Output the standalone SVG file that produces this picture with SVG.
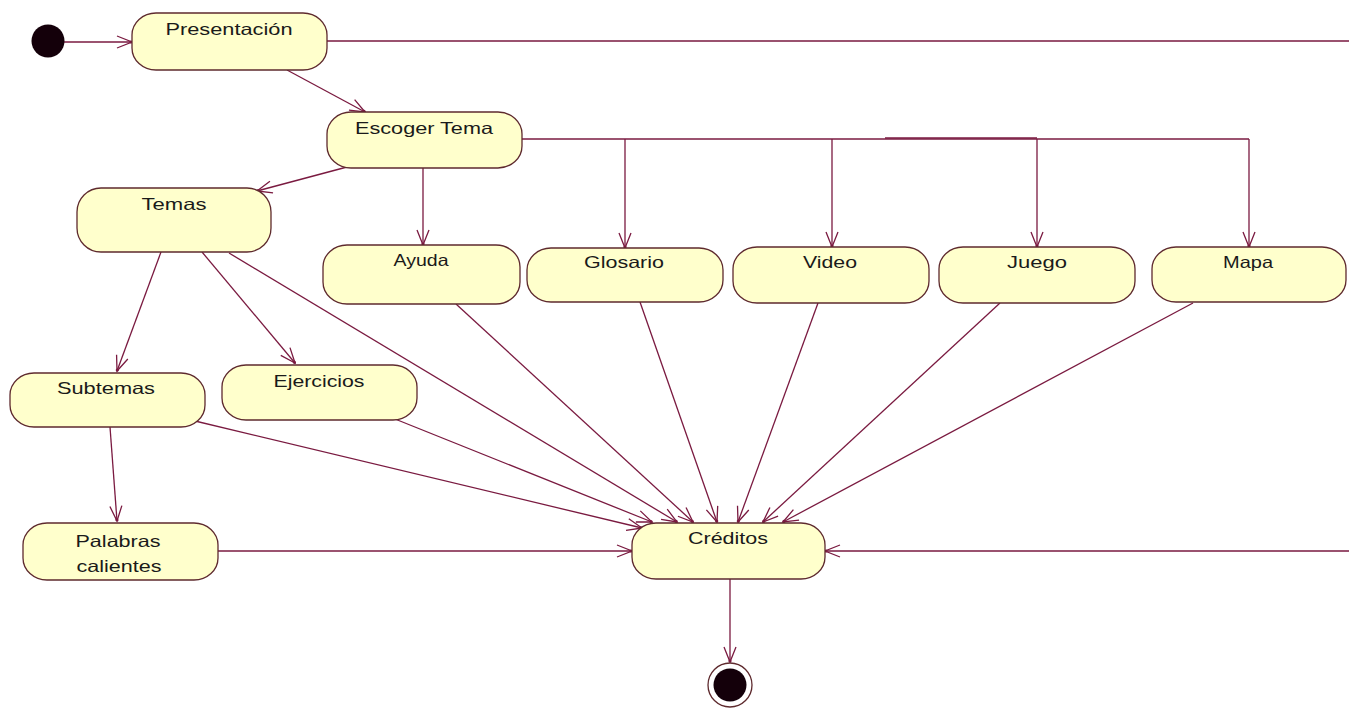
<svg xmlns="http://www.w3.org/2000/svg" width="1349" height="708" viewBox="0 0 1349 708">
  <style>
    .node rect { fill: #ffffcc; stroke: #5e2a2e; stroke-width: 1.3; }
    .node text { font-family: "Liberation Sans", Arial, sans-serif; font-size: 16.5px; fill: #1a1a1a; text-anchor: middle; }
    .conn { fill: none; stroke: #7a1a40; stroke-width: 1.3; }
    .arrow { marker-end: url(#open); }
  </style>
  <defs>
    <marker id="open" markerUnits="userSpaceOnUse" markerWidth="20" markerHeight="16" viewBox="-16 -8 18 16" refX="0" refY="0" orient="auto">
      <path d="M-15,-6 L0,0 L-15,6" fill="none" stroke="#7a1a40" stroke-width="1.3"/>
      <circle cx="-1" cy="0" r="1.6" fill="#7a1a40"/>
    </marker>
  </defs>

  <rect width="1349" height="708" fill="#ffffff"/>

  <!-- transitions -->
  <g id="connectors">
    <line class="conn arrow" x1="64" y1="42" x2="132" y2="42"/>
    <line class="conn arrow" x1="287" y1="70" x2="365" y2="112"/>
    <line class="conn arrow" x1="347" y1="167" x2="257" y2="191"/>
    <line class="conn arrow" x1="423" y1="168" x2="423" y2="245"/>
    <!-- fan-out from Escoger Tema -->
    <line class="conn" x1="522" y1="139" x2="1249" y2="139"/>
    <line class="conn" x1="885" y1="138" x2="1037" y2="138" stroke-width="2"/>
    <line class="conn arrow" x1="625" y1="139" x2="625" y2="248"/>
    <line class="conn arrow" x1="832" y1="139" x2="832" y2="247"/>
    <line class="conn arrow" x1="1037" y1="139" x2="1037" y2="247"/>
    <line class="conn arrow" x1="1249" y1="139" x2="1249" y2="247"/>
    <!-- from Temas -->
    <line class="conn arrow" x1="161" y1="252" x2="117" y2="371"/>
    <line class="conn arrow" x1="202" y1="252" x2="295" y2="363"/>
    <line class="conn arrow" x1="229" y1="253" x2="677" y2="522"/>
    <!-- from Subtemas / Ejercicios -->
    <line class="conn arrow" x1="110" y1="427" x2="117" y2="521"/>
    <line class="conn arrow" x1="195" y1="421" x2="642" y2="528"/>
    <line class="conn arrow" x1="395" y1="419" x2="652" y2="522"/>
    <!-- into Créditos from the top row -->
    <line class="conn arrow" x1="456" y1="304" x2="693" y2="522"/>
    <line class="conn arrow" x1="640" y1="302" x2="717" y2="522"/>
    <line class="conn arrow" x1="818" y1="303" x2="738" y2="522"/>
    <line class="conn arrow" x1="1000" y1="303" x2="763" y2="522"/>
    <line class="conn arrow" x1="1193" y1="303" x2="783" y2="522"/>
    <line class="conn arrow" x1="218" y1="551" x2="632" y2="551"/>
    <!-- skip path from Presentación around the right side -->
    <path class="conn arrow" d="M327,41 H1362 V551 H825"/>
    <line class="conn arrow" x1="730" y1="579" x2="730" y2="662"/>
  </g>

  <g id="start">
    <circle cx="48" cy="41" r="16.5" fill="#14000a"/>
  </g>

  <g id="presentacion" class="node">
    <rect x="132" y="13" width="195" height="57" rx="24" ry="22"/>
    <text x="229" y="35" textLength="127" lengthAdjust="spacingAndGlyphs">Presentación</text>
  </g>
  <g id="escoger-tema" class="node">
    <rect x="327" y="112" width="195" height="56" rx="24" ry="22"/>
    <text x="424" y="134" textLength="138" lengthAdjust="spacingAndGlyphs">Escoger Tema</text>
  </g>
  <g id="temas" class="node">
    <rect x="77" y="188" width="194" height="64" rx="24" ry="24"/>
    <text x="174" y="210" textLength="65" lengthAdjust="spacingAndGlyphs">Temas</text>
  </g>
  <g id="ayuda" class="node">
    <rect x="323" y="245" width="197" height="59" rx="24" ry="22"/>
    <text x="421" y="266" textLength="55" lengthAdjust="spacingAndGlyphs">Ayuda</text>
  </g>
  <g id="glosario" class="node">
    <rect x="527" y="248" width="196" height="54" rx="24" ry="22"/>
    <text x="624" y="268" textLength="80" lengthAdjust="spacingAndGlyphs">Glosario</text>
  </g>
  <g id="video" class="node">
    <rect x="733" y="247" width="196" height="56" rx="24" ry="22"/>
    <text x="830" y="268" textLength="54" lengthAdjust="spacingAndGlyphs">Video</text>
  </g>
  <g id="juego" class="node">
    <rect x="939" y="247" width="196" height="56" rx="24" ry="22"/>
    <text x="1037" y="268" textLength="60" lengthAdjust="spacingAndGlyphs">Juego</text>
  </g>
  <g id="mapa" class="node">
    <rect x="1152" y="247" width="194" height="55" rx="24" ry="22"/>
    <text x="1248" y="268" textLength="50" lengthAdjust="spacingAndGlyphs">Mapa</text>
  </g>
  <g id="subtemas" class="node">
    <rect x="10" y="373" width="195" height="54" rx="24" ry="22"/>
    <text x="106" y="394" textLength="98" lengthAdjust="spacingAndGlyphs">Subtemas</text>
  </g>
  <g id="ejercicios" class="node">
    <rect x="222" y="365" width="195" height="55" rx="24" ry="22"/>
    <text x="319" y="387" textLength="91" lengthAdjust="spacingAndGlyphs">Ejercicios</text>
  </g>
  <g id="palabras-calientes" class="node">
    <rect x="23" y="523" width="195" height="57" rx="24" ry="22"/>
    <text x="118" y="547" textLength="85" lengthAdjust="spacingAndGlyphs">Palabras</text>
    <text x="119" y="572" textLength="85" lengthAdjust="spacingAndGlyphs">calientes</text>
  </g>
  <g id="creditos" class="node">
    <rect x="632" y="523" width="193" height="56" rx="24" ry="22"/>
    <text x="728" y="544" textLength="80" lengthAdjust="spacingAndGlyphs">Créditos</text>
  </g>

  <g id="end">
    <circle cx="730" cy="685" r="22" fill="#ffffff" stroke="#5e2a2e" stroke-width="1.3"/>
    <circle cx="730" cy="685" r="16.5" fill="#14000a"/>
  </g>
</svg>
